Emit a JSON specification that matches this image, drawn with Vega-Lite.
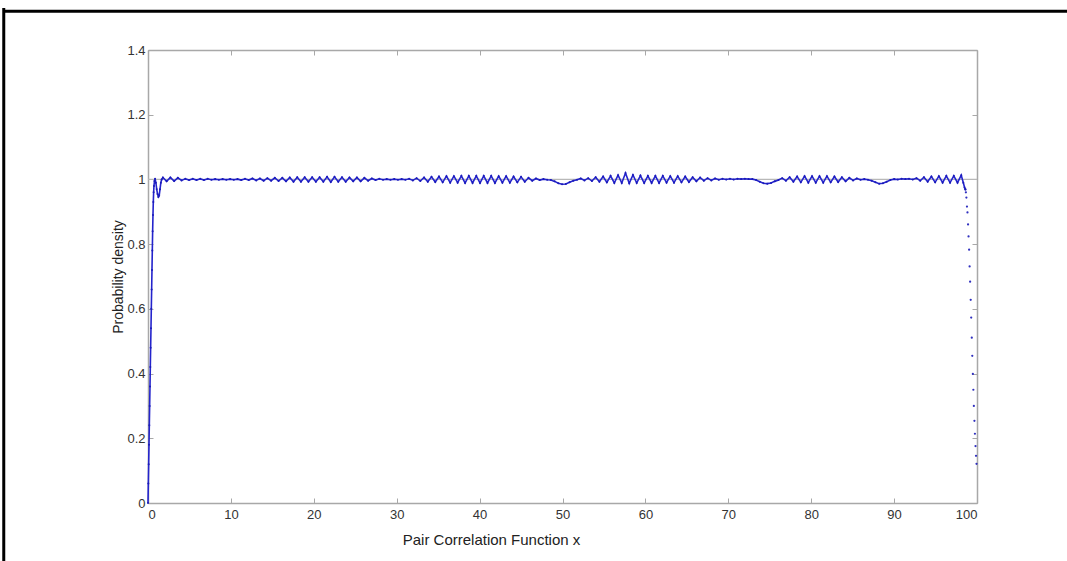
{
  "$schema": "https://vega.github.io/schema/vega-lite/v6.json",
  "autosize": "none",
  "width": 829,
  "height": 453,
  "padding": {"left": 148, "top": 50, "right": 90, "bottom": 58},
  "background": "white",
  "config": {
    "view": {"stroke": null},
    "font": "Liberation Sans",
    "axis": {
      "domainColor": "#a8a8a8",
      "domainWidth": 1.5,
      "tickColor": "#a8a8a8",
      "tickSize": -5,
      "tickWidth": 1,
      "grid": false,
      "labelColor": "#333333",
      "labelFont": "Liberation Sans",
      "labelFontSize": 13,
      "titleFont": "Liberation Sans",
      "titleFontWeight": "normal",
      "titleColor": "#222222"
    }
  },
  "datasets": {
    "pcf": [
      {"x": 0.00, "y": 0.000}, {"x": 0.04, "y": 0.060}, {"x": 0.08, "y": 0.120}, {"x": 0.12, "y": 0.180},
      {"x": 0.16, "y": 0.240}, {"x": 0.20, "y": 0.300}, {"x": 0.24, "y": 0.360}, {"x": 0.28, "y": 0.420},
      {"x": 0.32, "y": 0.480}, {"x": 0.36, "y": 0.540}, {"x": 0.40, "y": 0.600}, {"x": 0.44, "y": 0.660},
      {"x": 0.48, "y": 0.720}, {"x": 0.52, "y": 0.780}, {"x": 0.56, "y": 0.840}, {"x": 0.60, "y": 0.890},
      {"x": 0.64, "y": 0.930}, {"x": 0.68, "y": 0.960}, {"x": 0.72, "y": 0.980}, {"x": 0.78, "y": 0.995},
      {"x": 0.85, "y": 1.002}, {"x": 0.95, "y": 0.990}, {"x": 1.05, "y": 0.970}, {"x": 1.15, "y": 0.955},
      {"x": 1.25, "y": 0.946}, {"x": 1.35, "y": 0.950}, {"x": 1.45, "y": 0.970}, {"x": 1.55, "y": 0.990},
      {"x": 1.65, "y": 1.000},
      {"x": 1.80, "y": 1.006}, {"x": 2.25, "y": 0.994}, {"x": 2.70, "y": 1.006}, {"x": 3.15, "y": 0.995},
      {"x": 3.60, "y": 1.005}, {"x": 4.05, "y": 0.997}, {"x": 4.50, "y": 1.002}, {"x": 4.95, "y": 0.998},
      {"x": 5.40, "y": 1.002}, {"x": 5.85, "y": 0.998}, {"x": 6.30, "y": 1.002}, {"x": 6.75, "y": 0.998},
      {"x": 7.20, "y": 1.002}, {"x": 7.65, "y": 0.999}, {"x": 8.10, "y": 1.001}, {"x": 8.55, "y": 0.999},
      {"x": 9.00, "y": 1.001}, {"x": 9.45, "y": 0.999}, {"x": 9.90, "y": 1.001}, {"x": 10.35, "y": 0.999},
      {"x": 10.80, "y": 1.001}, {"x": 11.25, "y": 0.998}, {"x": 11.70, "y": 1.002}, {"x": 12.15, "y": 0.998},
      {"x": 12.60, "y": 1.003}, {"x": 13.05, "y": 0.997}, {"x": 13.50, "y": 1.003}, {"x": 13.95, "y": 0.996},
      {"x": 14.40, "y": 1.004}, {"x": 14.85, "y": 0.996}, {"x": 15.30, "y": 1.005}, {"x": 15.75, "y": 0.995},
      {"x": 16.20, "y": 1.005}, {"x": 16.65, "y": 0.994}, {"x": 17.10, "y": 1.006}, {"x": 17.55, "y": 0.993},
      {"x": 18.00, "y": 1.007}, {"x": 18.45, "y": 0.993}, {"x": 18.90, "y": 1.007}, {"x": 19.35, "y": 0.993},
      {"x": 19.80, "y": 1.007}, {"x": 20.25, "y": 0.993}, {"x": 20.70, "y": 1.007}, {"x": 21.15, "y": 0.993},
      {"x": 21.60, "y": 1.008}, {"x": 22.05, "y": 0.992}, {"x": 22.50, "y": 1.008}, {"x": 22.95, "y": 0.993},
      {"x": 23.40, "y": 1.007}, {"x": 23.85, "y": 0.993}, {"x": 24.30, "y": 1.006}, {"x": 24.75, "y": 0.994},
      {"x": 25.20, "y": 1.006}, {"x": 25.65, "y": 0.994}, {"x": 26.10, "y": 1.005}, {"x": 26.55, "y": 0.996},
      {"x": 27.00, "y": 1.003}, {"x": 27.45, "y": 0.998}, {"x": 27.90, "y": 1.002}, {"x": 28.35, "y": 0.999},
      {"x": 28.80, "y": 1.001}, {"x": 29.25, "y": 0.999}, {"x": 29.70, "y": 1.001}, {"x": 30.15, "y": 0.999},
      {"x": 30.60, "y": 1.001}, {"x": 31.05, "y": 0.999}, {"x": 31.50, "y": 1.002}, {"x": 31.95, "y": 0.997},
      {"x": 32.40, "y": 1.004}, {"x": 32.85, "y": 0.995}, {"x": 33.30, "y": 1.006}, {"x": 33.75, "y": 0.993},
      {"x": 34.20, "y": 1.008}, {"x": 34.65, "y": 0.992}, {"x": 35.10, "y": 1.009}, {"x": 35.55, "y": 0.991},
      {"x": 36.00, "y": 1.010}, {"x": 36.45, "y": 0.990}, {"x": 36.90, "y": 1.010}, {"x": 37.35, "y": 0.990},
      {"x": 37.80, "y": 1.011}, {"x": 38.25, "y": 0.989}, {"x": 38.70, "y": 1.011}, {"x": 39.15, "y": 0.989},
      {"x": 39.60, "y": 1.011}, {"x": 40.05, "y": 0.989}, {"x": 40.50, "y": 1.011}, {"x": 40.95, "y": 0.989},
      {"x": 41.40, "y": 1.011}, {"x": 41.85, "y": 0.989}, {"x": 42.30, "y": 1.010}, {"x": 42.75, "y": 0.990},
      {"x": 43.20, "y": 1.010}, {"x": 43.65, "y": 0.990}, {"x": 44.10, "y": 1.009}, {"x": 44.55, "y": 0.991},
      {"x": 45.00, "y": 1.008}, {"x": 45.45, "y": 0.993}, {"x": 45.90, "y": 1.005}, {"x": 46.35, "y": 0.996},
      {"x": 46.80, "y": 1.003}, {"x": 47.25, "y": 0.998}, {"x": 47.70, "y": 1.001}, {"x": 48.15, "y": 0.999},
      {"x": 48.60, "y": 0.998}, {"x": 49.05, "y": 0.994}, {"x": 49.50, "y": 0.988}, {"x": 49.95, "y": 0.985},
      {"x": 50.40, "y": 0.986}, {"x": 50.85, "y": 0.991}, {"x": 51.30, "y": 0.996}, {"x": 51.75, "y": 0.999},
      {"x": 52.20, "y": 1.003}, {"x": 52.65, "y": 0.997}, {"x": 53.10, "y": 1.004}, {"x": 53.55, "y": 0.995},
      {"x": 54.00, "y": 1.007}, {"x": 54.45, "y": 0.993}, {"x": 54.90, "y": 1.009}, {"x": 55.35, "y": 0.991},
      {"x": 55.80, "y": 1.011}, {"x": 56.25, "y": 0.989}, {"x": 56.70, "y": 1.013}, {"x": 57.15, "y": 0.989},
      {"x": 57.60, "y": 1.020}, {"x": 58.05, "y": 0.988}, {"x": 58.50, "y": 1.014}, {"x": 58.95, "y": 0.989},
      {"x": 59.40, "y": 1.012}, {"x": 59.85, "y": 0.989}, {"x": 60.30, "y": 1.011}, {"x": 60.75, "y": 0.989},
      {"x": 61.20, "y": 1.011}, {"x": 61.65, "y": 0.989}, {"x": 62.10, "y": 1.011}, {"x": 62.55, "y": 0.990},
      {"x": 63.00, "y": 1.010}, {"x": 63.45, "y": 0.990}, {"x": 63.90, "y": 1.010}, {"x": 64.35, "y": 0.991},
      {"x": 64.80, "y": 1.009}, {"x": 65.25, "y": 0.992}, {"x": 65.70, "y": 1.007}, {"x": 66.15, "y": 0.994},
      {"x": 66.60, "y": 1.006}, {"x": 67.05, "y": 0.996}, {"x": 67.50, "y": 1.004}, {"x": 67.95, "y": 0.997},
      {"x": 68.40, "y": 1.003}, {"x": 68.85, "y": 0.999}, {"x": 69.30, "y": 1.002}, {"x": 69.75, "y": 1.000},
      {"x": 70.20, "y": 1.002}, {"x": 70.65, "y": 1.000}, {"x": 71.10, "y": 1.002}, {"x": 71.55, "y": 1.001},
      {"x": 72.00, "y": 1.002}, {"x": 72.45, "y": 1.001}, {"x": 72.90, "y": 1.001},
      {"x": 73.35, "y": 0.998}, {"x": 73.80, "y": 0.993}, {"x": 74.25, "y": 0.988}, {"x": 74.70, "y": 0.987},
      {"x": 75.15, "y": 0.989}, {"x": 75.60, "y": 0.994}, {"x": 76.05, "y": 0.998},
      {"x": 76.50, "y": 1.004}, {"x": 76.95, "y": 0.996}, {"x": 77.40, "y": 1.007}, {"x": 77.85, "y": 0.993},
      {"x": 78.30, "y": 1.009}, {"x": 78.75, "y": 0.991}, {"x": 79.20, "y": 1.010}, {"x": 79.65, "y": 0.990},
      {"x": 80.10, "y": 1.010}, {"x": 80.55, "y": 0.990}, {"x": 81.00, "y": 1.010}, {"x": 81.45, "y": 0.990},
      {"x": 81.90, "y": 1.010}, {"x": 82.35, "y": 0.991}, {"x": 82.80, "y": 1.009}, {"x": 83.25, "y": 0.992},
      {"x": 83.70, "y": 1.007}, {"x": 84.15, "y": 0.994}, {"x": 84.60, "y": 1.005}, {"x": 85.05, "y": 0.997},
      {"x": 85.50, "y": 1.003}, {"x": 85.95, "y": 0.999}, {"x": 86.40, "y": 1.001}, {"x": 86.85, "y": 0.999},
      {"x": 87.30, "y": 0.996}, {"x": 87.75, "y": 0.991}, {"x": 88.20, "y": 0.987}, {"x": 88.65, "y": 0.988},
      {"x": 89.10, "y": 0.993}, {"x": 89.55, "y": 0.998},
      {"x": 90.00, "y": 1.001}, {"x": 90.45, "y": 1.000}, {"x": 90.90, "y": 1.002}, {"x": 91.35, "y": 1.001},
      {"x": 91.80, "y": 1.002}, {"x": 92.25, "y": 1.000}, {"x": 92.70, "y": 1.004}, {"x": 93.15, "y": 0.996},
      {"x": 93.60, "y": 1.007}, {"x": 94.05, "y": 0.993}, {"x": 94.50, "y": 1.009}, {"x": 94.95, "y": 0.991},
      {"x": 95.40, "y": 1.010}, {"x": 95.85, "y": 0.990}, {"x": 96.30, "y": 1.011}, {"x": 96.75, "y": 0.990},
      {"x": 97.20, "y": 1.011}, {"x": 97.65, "y": 0.990}, {"x": 98.10, "y": 1.013},
      {"x": 98.35, "y": 0.990}, {"x": 98.50, "y": 0.975},
      {"x": 98.60, "y": 0.969}, {"x": 98.66, "y": 0.960}, {"x": 98.72, "y": 0.944}, {"x": 98.79, "y": 0.916},
      {"x": 98.85, "y": 0.898}, {"x": 98.92, "y": 0.861}, {"x": 98.98, "y": 0.824}, {"x": 99.05, "y": 0.783},
      {"x": 99.11, "y": 0.731}, {"x": 99.17, "y": 0.684}, {"x": 99.24, "y": 0.628}, {"x": 99.30, "y": 0.573},
      {"x": 99.37, "y": 0.511}, {"x": 99.43, "y": 0.455}, {"x": 99.50, "y": 0.399}, {"x": 99.56, "y": 0.350},
      {"x": 99.62, "y": 0.300}, {"x": 99.69, "y": 0.254}, {"x": 99.75, "y": 0.214}, {"x": 99.82, "y": 0.176},
      {"x": 99.88, "y": 0.146}, {"x": 99.94, "y": 0.121}
    ],
    "frameTop": [{"x": -17.4, "x2": 115, "y": 1.52}],
    "frameLeft": [{"x": -17.4, "y": 1.53, "y2": -0.2}]
  },
  "layer": [
    {
      "data": {"values": [{"ref": 1}]},
      "mark": {"type": "rule", "color": "#b8b8b8", "strokeWidth": 1.2},
      "encoding": {
        "y": {"field": "ref", "type": "quantitative", "scale": {"domain": [0, 1.4], "nice": false}, "axis": null}
      }
    },
    {
      "data": {"name": "pcf"},
      "transform": [{"filter": "datum.x <= 98.61"}],
      "mark": {"type": "line", "color": "#2424cc", "strokeWidth": 1.6, "point": {"filled": true, "size": 4, "color": "#1a1ab8"}},
      "encoding": {
        "x": {"field": "x", "type": "quantitative", "scale": {"domain": [0, 100], "nice": false, "zero": false},
          "axis": {"orient": "bottom", "values": [0, 10, 20, 30, 40, 50, 60, 70, 80, 90, 100], "format": "d", "labelPadding": 10, "title": "Pair Correlation Function x", "titleFontSize": 15, "titlePadding": 11, "titleX": 343, "titleAlign": "center"}},
        "y": {"field": "y", "type": "quantitative", "scale": {"domain": [0, 1.4], "nice": false},
          "axis": {"orient": "left", "values": [0, 0.2, 0.4, 0.6, 0.8, 1, 1.2, 1.4], "format": "~g", "labelPadding": 8, "title": "Probability density", "titleFontSize": 14, "titlePadding": 1}}
      }
    },
    {
      "data": {"name": "pcf"},
      "transform": [{"filter": "datum.x >= 98.6"}],
      "mark": {"type": "point", "filled": true, "size": 5, "color": "#1a1ab8", "opacity": 0.9},
      "encoding": {
        "x": {"field": "x", "type": "quantitative", "axis": null},
        "y": {"field": "y", "type": "quantitative", "axis": null}
      }
    },
    {
      "data": {"name": "pcf"},
      "mark": {"type": "point", "opacity": 0},
      "encoding": {
        "x": {"field": "x", "type": "quantitative", "axis": {"orient": "top", "values": [0, 10, 20, 30, 40, 50, 60, 70, 80, 90, 100], "labels": false, "title": null}},
        "y": {"field": "y", "type": "quantitative", "axis": {"orient": "right", "values": [0, 0.2, 0.4, 0.6, 0.8, 1, 1.2, 1.4], "labels": false, "title": null}}
      }
    },
    {
      "data": {"name": "frameTop"},
      "mark": {"type": "rule", "color": "black", "strokeWidth": 3, "clip": false},
      "encoding": {
        "x": {"field": "x", "type": "quantitative", "axis": null},
        "x2": {"field": "x2"},
        "y": {"field": "y", "type": "quantitative", "axis": null}
      }
    },
    {
      "data": {"name": "frameLeft"},
      "mark": {"type": "rule", "color": "black", "strokeWidth": 3, "clip": false},
      "encoding": {
        "x": {"field": "x", "type": "quantitative", "axis": null},
        "y": {"field": "y", "type": "quantitative", "axis": null},
        "y2": {"field": "y2"}
      }
    }
  ],
  "resolve": {"axis": {"x": "independent", "y": "independent"}}
}
